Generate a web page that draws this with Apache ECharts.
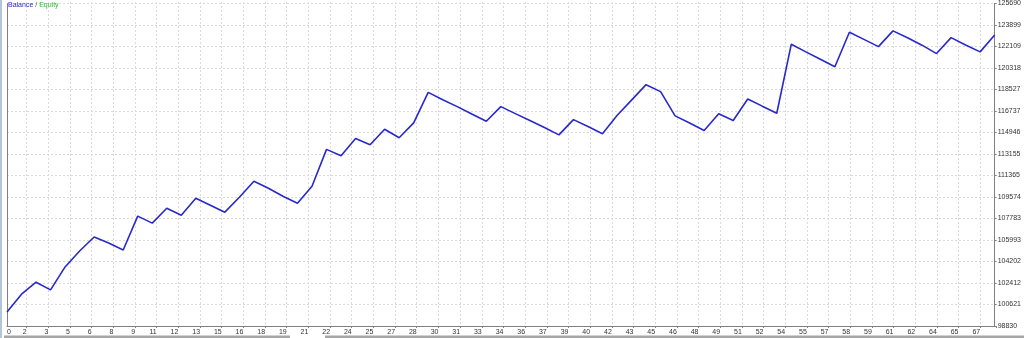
<!DOCTYPE html>
<html><head><meta charset="utf-8">
<script src="https://cdn.jsdelivr.net/npm/echarts@6/dist/echarts.min.js"></script>
<style>html,body{margin:0;padding:0;background:#fff}#c{width:1024px;height:338px}</style>
</head><body><div id="c"></div>
<script>
const trades = [0,1,2,3,4,5,6,7,8,9,10,11,12,13,14,15,16,17,18,19,20,21,22,23,24,25,26,27,28,29,30,31,32,33,34,35,36,37,38,39,40,41,42,43,44,45,46,47,48,49,50,51,52,53,54,55,56,57,58,59,60,61,62,63,64,65,66,67,68];
const balance = [
  100000,101480,102480,101840,103750,105080,106240,105740,105160,107980,
  107400,108640,108060,109470,108890,108310,109550,110880,110300,109640,
  109060,110470,113540,113010,114450,113930,115220,114510,115750,118290,
  117680,117100,116480,115880,117100,116520,115940,115360,114750,116020,
  115440,114840,116360,117640,118930,118350,116330,115730,115110,116500,
  115940,117740,117140,116550,122300,121660,121040,120420,123300,122700,
  122100,123410,122830,122220,121520,122850,122240,121660,123070
];
const xTickLabels = ['0','2','3','5','6','8','9','11','12','13','15','16','18','19','21','22','24','25','27','28','30','31','33','34','36','37','39','40','42','43','45','46','48','49','51','52','54','55','57','58','59','61','62','64','65','67'];
const yTickLabels = ['98830','100621','102412','104202','105993','107783','109574','111365','113155','114946','116737','118527','120318','122109','123899','125690'];
const legendNames = ['Balance','Equity'];

const chart = echarts.init(document.getElementById('c'), null, {renderer:'canvas'});
const FONT = 'Liberation Sans';
const gridLine = {show:true, lineStyle:{color:'#dadada', type:[2,2], width:1}};
const axisCol = '#808080';
const labCol = '#333333';

chart.setOption({
  animation:false,
  backgroundColor:'#ffffff',
  title:{
    text:'{b|'+legendNames[0]+'} / {e|'+legendNames[1]+'}',
    left:8, top:2, padding:0,
    textStyle:{fontSize:7, fontFamily:FONT, fontWeight:'normal', color:'#555',
      rich:{b:{color:'#2b2bc4', fontSize:7, fontFamily:FONT}, e:{color:'#33b833', fontSize:7, fontFamily:FONT}}}
  },
  graphic:[
    {type:'rect', shape:{x:0,y:0,width:2,height:338}, style:{fill:'#b3c4dc'}, z:100},
    {type:'rect', shape:{x:4,y:335.5,width:286,height:2.5}, style:{fill:'#a6a6a6'}, z:100},
    {type:'rect', shape:{x:325,y:335.5,width:699,height:2.5}, style:{fill:'#a6a6a6'}, z:100}
  ],
  grid:[
    {left:7, right:28, top:2, bottom:12, containLabel:false},
    {left:5, right:28, top:2, bottom:12, containLabel:false}
  ],
  xAxis:[
    {type:'value', gridIndex:0, min:0, max:trades[trades.length-1], interval:trades[trades.length-1],
     axisLine:{show:true, lineStyle:{color:axisCol, width:1}}, axisTick:{show:false}, splitLine:{show:false},
     axisLabel:{show:true, margin:3, align:'left', fontSize:7, fontFamily:FONT, color:labCol,
       formatter:v => v===0 ? xTickLabels[0] : ''}},
    {type:'value', gridIndex:1, min:0, max:45.73, interval:1,
     axisLine:{show:false}, axisTick:{show:true, length:2, lineStyle:{color:axisCol}},
     splitLine:Object.assign({showMinLine:false, showMaxLine:false}, gridLine),
     axisLabel:{show:true, margin:3, align:'right', fontSize:7, fontFamily:FONT, color:labCol, hideOverlap:false,
       showMinLabel:false, showMaxLabel:true,
       formatter:v => (Number.isInteger(v) && v>0 && v<xTickLabels.length) ? xTickLabels[v] : ''}}
  ],
  yAxis:[
    {type:'value', gridIndex:0, position:'left', min:98830, max:125690,
     axisLine:{show:true, lineStyle:{color:axisCol, width:1}}, axisTick:{show:false}, axisLabel:{show:false}, splitLine:{show:false}},
    {type:'value', gridIndex:0, position:'right', min:0, max:yTickLabels.length-1, interval:1,
     axisLine:{show:true, lineStyle:{color:axisCol, width:1}}, axisTick:{show:true, length:2, lineStyle:{color:axisCol}},
     splitLine:Object.assign({showMinLine:false, showMaxLine:true}, gridLine),
     axisLabel:{show:true, margin:3, fontSize:7, fontFamily:FONT, color:labCol, hideOverlap:false,
       formatter:v => yTickLabels[v] || ''}},
    {type:'value', gridIndex:1, min:0, max:1, show:false}
  ],
  series:[{
    type:'line', xAxisIndex:0, yAxisIndex:0, showSymbol:false, symbol:'none',
    data: balance.map((v,i)=>[trades[i], v]),
    lineStyle:{color:'#2828cc', width:1.6}, z:10
  }]
});
</script></body></html>
